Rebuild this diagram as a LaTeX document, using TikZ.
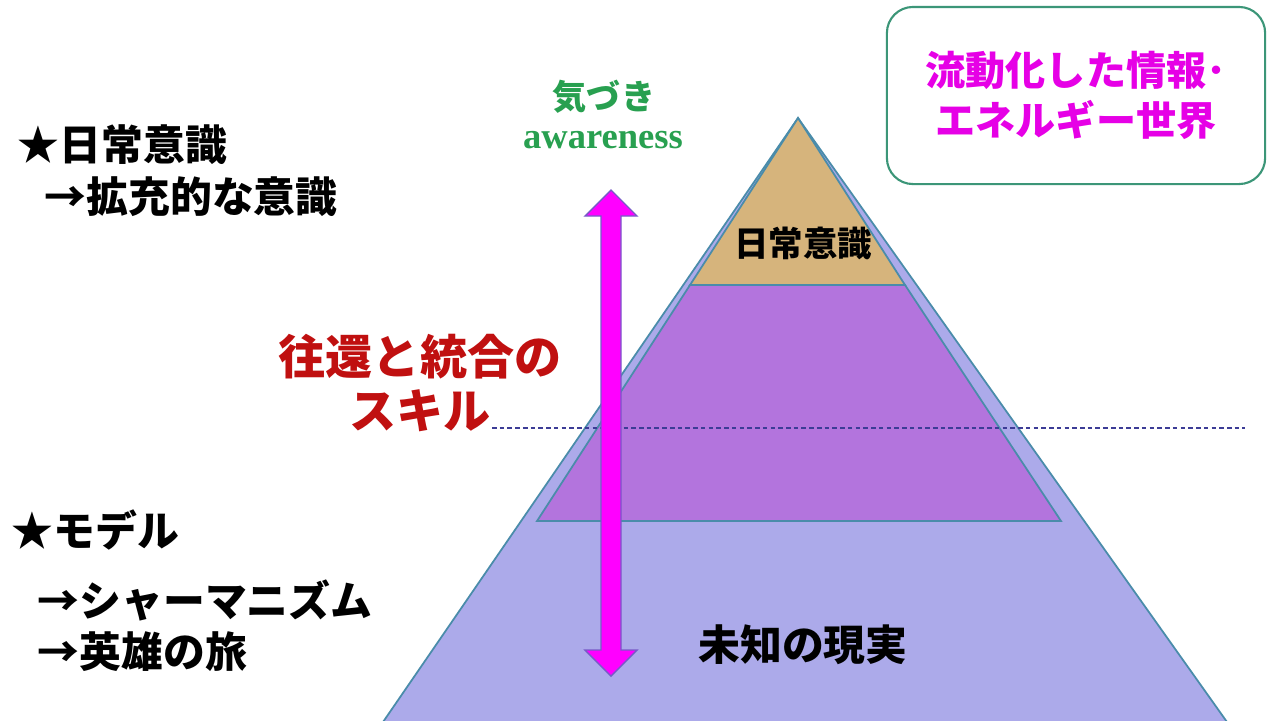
\documentclass[tikz,border=0pt]{standalone}
\usepackage{fontspec}
\setmainfont{Liberation Serif}
\newfontfamily\jp{Noto Sans CJK JP}
\usetikzlibrary{positioning}
\definecolor{pyrblue}{RGB}{172,170,234}
\definecolor{pyrpurple}{RGB}{179,116,221}
\definecolor{pyrtan}{RGB}{214,180,124}
\definecolor{edgeteal}{RGB}{74,140,170}
\definecolor{dashblue}{RGB}{60,60,150}
\definecolor{arrowpink}{RGB}{255,0,255}
\definecolor{arrowedge}{RGB}{120,90,200}
\definecolor{awgreen}{RGB}{40,160,80}
\definecolor{skillred}{RGB}{192,16,16}
\definecolor{worldpink}{RGB}{230,0,230}
\definecolor{boxgreen}{RGB}{60,150,120}
\newcommand{\jpsize}[1]{\jp\bfseries\fontsize{#1}{#1}\selectfont}

\begin{document}
\begin{tikzpicture}[
  x=0.01cm,y=-0.01cm,
  layer/.style={draw=edgeteal,line width=0.5pt},
  lefttext/.style={anchor=west,inner sep=0pt,font=\jpsize{11.9}},
  pyrtext/.style={inner sep=0pt,font=\jpsize{11.9}}
]
\useasboundingbox[fill=white] (0,0) rectangle (1280,720);
% pyramid
\filldraw[layer,fill=pyrblue] (798,118) -- (383,722) -- (1227,722) -- cycle;
\filldraw[layer,fill=pyrpurple] (690,285) -- (537,521) -- (1061,521) -- (905,285) -- cycle;
\filldraw[layer,fill=pyrtan] (798,118) -- (690,285) -- (905,285) -- cycle;
\draw[dashblue,line width=0.4pt,dash pattern=on 1.3pt off 0.9pt] (492,428) -- (1245,428);
% double arrow
\filldraw[fill=arrowpink,draw=arrowedge,line width=0.4pt]
  (611,190) -- (637,216) -- (621,216) -- (621,650) -- (637,650) -- (611,676)
  -- (585,650) -- (601,650) -- (601,216) -- (585,216) -- cycle;

\node[pyrtext,font=\jpsize{9.8}] (daily) at (803,243) {日常意識};
\node[pyrtext] (unknown) at (803,645) {未知の現実};
\node[inner sep=0pt,font=\jpsize{9.7},text=awgreen] (kizuki) at (604,97) {気づき};
\node[inner sep=0pt,font=\bfseries\fontsize{10.4}{12}\selectfont,text=awgreen] (aware) at (603,140) {awareness};
\node[inner sep=0pt,align=center,font=\jpsize{13.4},text=skillred] (skill) at (420,383)
  {往還と統合の\\[2.2pt]スキル};

\node[lefttext] (star1) at (17,145) {★日常意識};
\node[lefttext] (expand) at (44,197) {→拡充的な意識};
\node[lefttext] (star2) at (11,530) {★モデル};
\node[lefttext] (shaman) at (37,600) {→シャーマニズム};
\node[lefttext] (hero) at (37,652) {→英雄の旅};

\node[draw=boxgreen,line width=0.6pt,rounded corners=0.26cm,minimum width=3.78cm,
  minimum height=1.77cm,align=center,font=\jpsize{11.4},text=worldpink] (world) at (1076,95.5)
  {流動化した情報･\\[2.6pt]エネルギー世界};
\end{tikzpicture}
\end{document}
